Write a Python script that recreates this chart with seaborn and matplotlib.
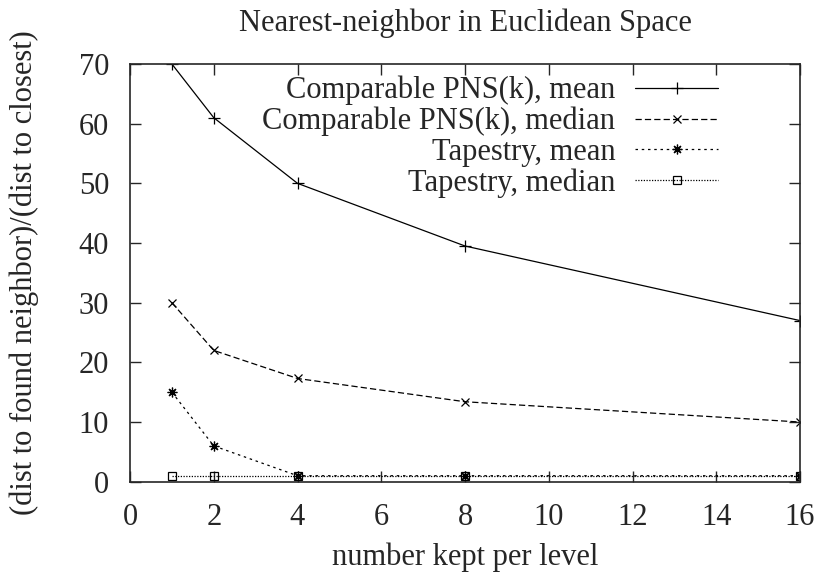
import matplotlib
matplotlib.use("Agg")
import matplotlib.pyplot as plt
import seaborn as sns
import pandas as pd

# ---- data ----
kept = [1, 2, 4, 8, 16]
pns_mean = [70, 61, 50, 39.5, 27]
pns_median = [30, 22, 17.3, 13.4, 10]
tap_mean = [15, 6, 1, 1, 1]
tap_median = [1, 1, 1, 1, 1]
series_names = ["Comparable PNS(k), mean", "Comparable PNS(k), median",
                "Tapestry, mean", "Tapestry, median"]
x_ticks = [0, 2, 4, 6, 8, 10, 12, 14, 16]
y_ticks = [0, 10, 20, 30, 40, 50, 60, 70]

sns.set_style("ticks")
plt.rcParams["font.family"] = ["Liberation Serif", "DejaVu Serif"]
FS = 22
plt.rcParams["font.size"] = FS

fig = plt.figure(figsize=(8.23, 5.82), dpi=100)
ax = fig.add_axes([130 / 823, 1 - 481.7 / 582, 670 / 823, (481.7 - 64) / 582])

styles = [
    dict(marker="+", dashes=None, ms=8),
    dict(marker="x", dashes=(5, 2.5), ms=6),
    dict(marker=(8, 2, 0), dashes=(2, 3), ms=7),
    dict(marker="s", dashes=(1, 1.2), ms=6),
]
values = [pns_mean, pns_median, tap_mean, tap_median]

for name, vals, st in zip(series_names, values, styles):
    df = pd.DataFrame({"x": kept, "y": vals})
    kw = dict(marker=st["marker"], markersize=st["ms"], markeredgewidth=0.9,
              markeredgecolor="black", color="black", linewidth=0.9, label=name)
    if st["marker"] == "s":
        kw["markerfacecolor"] = "none"
    sns.lineplot(data=df, x="x", y="y", ax=ax, **kw)
    ln = ax.get_lines()[-1]
    if st["dashes"] is not None:
        ln.set_dashes(st["dashes"])

ax.set_xlim(0, 16)
ax.set_ylim(0, 70)
ax.set_xticks(x_ticks)
ax.set_yticks(y_ticks)
ax.tick_params(direction="in", top=True, right=True, length=8, width=1,
               labelsize=FS)
ax.tick_params(axis="x", pad=15)
ax.tick_params(axis="y", pad=15)
for s in ax.spines.values():
    s.set_linewidth(1.2)
    s.set_visible(True)

ax.set_xlabel("number kept per level", fontsize=FS, labelpad=8)
ax.set_ylabel("(dist to found neighbor)/(dist to closest)", fontsize=FS, labelpad=29)
ax.set_title("Nearest-neighbor in Euclidean Space", fontsize=FS, pad=24)

leg = ax.legend(loc="upper right", bbox_to_anchor=((718 - 130) / 670, 0.972),
                frameon=False, markerfirst=False, fontsize=FS,
                handlelength=83 / (FS * 100 / 72), handletextpad=0.65,
                labelspacing=0.05, borderpad=0, borderaxespad=0)

fig.savefig("out.png", dpi=100)
